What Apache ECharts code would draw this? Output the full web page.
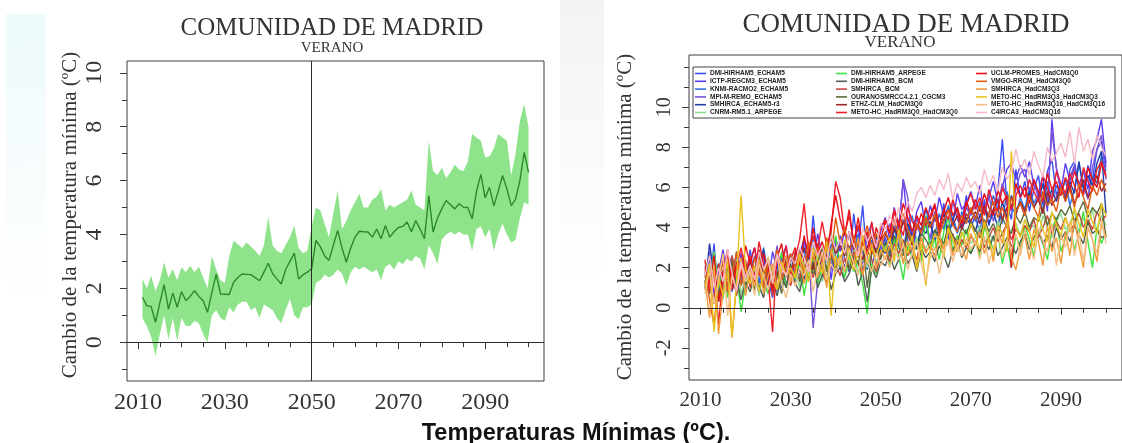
<!DOCTYPE html>
<html>
<head>
<meta charset="utf-8">
<script src="https://cdn.jsdelivr.net/npm/echarts@6/dist/echarts.min.js"></script>
<style>
  html, body { margin: 0; padding: 0; background: #ffffff; }
  #wrap { position: relative; width: 1122px; height: 443px; }
  #summary { position: absolute; left: 0; top: 0; width: 1122px; height: 443px; }
  #runs { position: absolute; left: 560px; top: 0; width: 562px; height: 443px; filter: blur(0.55px); }
</style>
</head>
<body>
<div id="wrap">
  <div id="summary"></div>
  <div id="runs"></div>
</div>
<script>
// ---- time axis -------------------------------------------------------------
const firstYear = 2011;
const lastYear = 2100;
const years = [];
for (let y = firstYear; y <= lastYear; y++) years.push(y);

const yearLabels = [2010, 2030, 2050, 2070, 2090];
const yearTicks = [2010, 2015, 2020, 2025, 2030, 2035, 2040, 2045, 2050, 2055,
                   2060, 2065, 2070, 2075, 2080, 2085, 2090, 2095, 2100];
const leftYLabels = [0, 2, 4, 6, 8, 10];
const leftYMinor = [-1, 1, 3, 5, 7, 9];
const rightYLabels = [-2, 0, 2, 4, 6, 8, 10];
const rightYMinor = [-3, -1, 1, 3, 5, 7, 9, 11, 12];

// ---- ensemble mean and spread (left panel), 2011-2100 ----------------------
const meanTn = [
  1.67, 1.36, 1.33, 0.74, 1.45, 2.14, 1.23, 1.83, 1.30, 1.88,
  1.55, 1.70, 1.91, 1.70, 1.54, 1.11, 1.85, 2.53, 1.79, 1.78,
  1.77, 2.22, 2.40, 2.53, 2.52, 2.51, 2.40, 2.28, 2.60, 2.93,
  2.55, 2.35, 2.16, 2.70, 3.00, 3.31, 2.35, 2.50, 2.60, 2.73,
  3.78, 3.55, 3.20, 3.04, 3.60, 4.15, 3.50, 2.97, 3.50, 3.90,
  4.12, 4.10, 4.09, 3.90, 4.20, 3.84, 4.33, 3.90, 4.10, 4.26,
  4.30, 4.46, 4.10, 4.52, 4.20, 3.84, 5.44, 4.09, 4.60, 4.95,
  5.26, 5.10, 4.95, 5.14, 5.01, 5.00, 4.58, 5.60, 6.23, 5.36,
  5.75, 5.06, 5.60, 6.19, 5.70, 5.07, 5.30, 6.00, 7.05, 6.30
];
const upperTn = [
  2.35, 2.00, 2.47, 1.90, 2.30, 2.96, 2.40, 2.72, 2.30, 2.78,
  2.60, 2.84, 2.60, 2.80, 2.40, 2.00, 3.20, 2.70, 2.30, 2.20,
  3.20, 3.77, 3.64, 3.50, 3.70, 3.55, 3.40, 3.20, 3.60, 4.65,
  3.60, 3.40, 3.30, 3.60, 3.90, 4.32, 3.50, 3.30, 3.40, 4.30,
  5.00, 4.90, 4.40, 3.90, 4.80, 5.63, 4.20, 4.50, 4.90, 5.20,
  5.50, 5.00, 5.00, 5.30, 5.40, 5.69, 4.90, 5.10, 5.00, 5.10,
  5.20, 5.30, 5.63, 5.10, 5.00, 4.90, 7.48, 6.36, 6.20, 6.48,
  6.10, 6.30, 6.60, 6.40, 6.36, 6.70, 7.73, 7.60, 7.48, 6.86,
  6.90, 7.20, 7.73, 7.60, 7.48, 6.20, 7.00, 8.20, 8.84, 7.97
];
const lowerTn = [
  0.90, 0.60, 0.20, -0.50, 0.30, 1.00, 0.10, 0.90, 0.05, 0.90,
  0.60, 0.60, 0.80, 0.70, 0.30, 0.00, 1.00, 1.20, 0.90, 0.80,
  1.30, 1.10, 1.40, 1.50, 1.50, 1.20, 1.30, 0.90, 1.40, 1.30,
  1.20, 0.90, 0.70, 1.20, 1.60, 1.00, 0.85, 1.30, 1.30, 1.40,
  2.20, 2.30, 2.50, 2.40, 2.50, 2.70, 2.54, 2.10, 2.60, 2.80,
  2.70, 2.80, 2.70, 2.60, 2.70, 2.30, 2.80, 2.90, 2.70, 3.00,
  2.90, 3.10, 3.00, 3.20, 3.10, 2.70, 3.60, 3.30, 2.90, 3.80,
  4.00, 4.10, 4.00, 4.10, 4.00, 4.00, 3.40, 4.20, 4.30, 3.90,
  4.20, 3.40, 4.00, 4.40, 4.00, 3.70, 3.80, 4.60, 5.20, 5.10
];

// ---- individual regional model runs (right panel), 2011-2100 ---------------
const modelNames = [
  'DMI-HIRHAM5_ECHAM5', 'ICTP-REGCM3_ECHAM5', 'KNMI-RACMO2_ECHAM5',
  'MPI-M-REMO_ECHAM5', 'SMHIRCA_ECHAM5-r3', 'CNRM-RM5.1_ARPEGE',
  'DMI-HIRHAM5_ARPEGE', 'DMI-HIRHAM5_BCM', 'SMHIRCA_BCM',
  'OURANOSMRCC4.2.1_CGCM3', 'ETHZ-CLM_HadCM3Q0', 'METO-HC_HadRM3Q0_HadCM3Q0',
  'UCLM-PROMES_HadCM3Q0', 'VMGO-RRCM_HadCM3Q0', 'SMHIRCA_HadCM3Q3',
  'METO-HC_HadRM3Q3_HadCM3Q3', 'METO-HC_HadRM3Q16_HadCM3Q16', 'C4IRCA3_HadCM3Q16'
];
const modelColors = [
  '#3a4df5', '#5b3cf0', '#2f6fe0', '#7a52d8', '#1f3fa8', '#8fdc8f',
  '#3ee23e', '#4f5f4f', '#c8463c', '#5a6b3a', '#a0222a', '#f0202a',
  '#e8101a', '#e05a10', '#f39a3a', '#e8c21a', '#f5bf85', '#f7b9c6'
];

const runHirhamEcham = [
  1.8, 0.9, 3.2, 0.4, 1.5, 2.1, 0.8, 1.9, 2.4, 1.2,
  2.9, 1.6, 0.7, 2.2, 1.4, 0.5, 1.8, 2.6, 1.1, 2.0,
  1.3, 2.7, 3.4, 1.9, 4.6, 2.2, 1.5, 3.1, 2.5, 1.7,
  3.6, 2.4, 1.8, 4.7, 2.9, 5.1, 2.2, 1.9, 3.2, 2.6,
  3.5, 2.8, 4.2, 3.0, 4.6, 3.3, 2.7, 4.1, 3.6, 4.4,
  3.2, 4.8, 3.9, 5.2, 3.4, 4.5, 3.8, 4.2, 5.6, 4.0,
  4.6, 3.7, 5.4, 4.1, 4.9, 5.8, 8.4, 5.2, 4.4, 6.9,
  5.5, 6.3, 4.8, 5.9, 6.6, 5.1, 6.8, 7.4, 5.6, 6.2,
  5.3, 6.9, 7.3, 6.0, 5.8, 7.1, 6.4, 7.9, 8.3, 7.0
];
const runRegcmEcham = [
  1.2, 2.5, 0.6, 1.8, 2.9, 1.4, 2.0, 0.9, 2.7, 1.5,
  2.3, 3.0, 1.7, 2.6, 1.2, 2.8, 1.9, 2.4, 3.1, 1.6,
  2.5, 1.8, 3.3, 2.9, 2.1, 3.7, 2.6, 3.0, 1.4, 3.4,
  2.8, 3.9, 2.5, 3.3, 4.0, 2.7, 3.6, 4.2, 2.9, 3.8,
  4.5, 3.4, 5.0, 3.9, 6.4, 4.1, 3.6, 4.8, 5.3, 4.0,
  5.1, 4.3, 5.5, 4.6, 5.0, 4.2, 5.7, 4.9, 5.2, 5.8,
  5.0, 6.1, 4.7, 5.5, 6.3, 5.2, 6.0, 6.9, 7.2, 6.4,
  7.1, 6.5, 7.3, 6.1, 5.7, 6.6, 4.8, 9.4, 6.9, 5.8,
  7.2, 6.3, 7.0, 6.1, 6.8, 5.9, 7.8, 8.4, 9.4, 7.2
];
const runRacmoEcham = [
  2.1, 1.3, 2.6, 0.8, 1.7, 2.4, 1.1, 2.8, 1.5, 0.9,
  1.9, 2.5, 1.2, 3.0, 1.6, 2.1, 0.8, 2.3, 1.8, 2.7,
  1.5, 2.2, 2.9, 1.8, 3.5, 1.2, 2.4, 2.0, 3.2, 2.6,
  1.9, 3.3, 2.5, 2.8, 3.7, 1.8, 2.6, 3.4, 2.2, 3.1,
  2.7, 3.6, 3.1, 4.4, 2.9, 3.8, 4.6, 3.2, 3.9, 4.9,
  4.1, 3.6, 4.7, 3.9, 5.1, 4.4, 3.7, 4.8, 4.2, 5.0,
  4.3, 5.3, 4.0, 4.7, 5.6, 4.9, 4.2, 5.8, 5.1, 4.6,
  5.5, 4.9, 6.0, 5.2, 5.7, 4.8, 6.3, 5.4, 6.1, 5.6,
  6.4, 5.1, 5.9, 7.2, 6.0, 5.5, 6.6, 6.2, 7.6, 6.8
];
const runRemoEcham = [
  1.5, 2.8, 1.0, 1.9, 0.6, 2.3, 1.7, 2.5, 1.3, 2.0,
  1.4, 2.6, 1.9, 1.0, 2.4, 1.7, 3.1, 1.5, 2.2, 1.3,
  2.4, 1.6, 2.0, 2.8, -1.0, 1.3, 2.6, 2.3, 1.9, 3.3,
  2.1, 2.9, 3.8, 2.4, 3.0, 2.2, 3.5, 2.7, 3.3, 2.9,
  3.6, 4.2, 3.1, 3.8, 6.4, 5.5, 3.2, 4.5, 3.7, 4.1,
  3.5, 4.6, 4.0, 4.9, 3.8, 5.3, 4.4, 4.0, 5.0, 4.6,
  5.2, 4.5, 4.9, 5.7, 4.3, 5.1, 6.2, 5.5, 4.8, 5.9,
  6.7, 6.9, 5.8, 6.4, 5.4, 6.1, 5.3, 8.8, 7.0, 6.0,
  5.6, 6.5, 7.1, 5.9, 6.3, 5.4, 7.0, 7.9, 8.6, 6.4
];
const runRcaEcham = [
  1.0, 3.2, 1.6, 2.2, 0.9, 1.8, 2.6, 1.2, 2.1, 1.7,
  2.5, 1.4, 2.0, 2.9, 1.1, 1.9, 2.3, 1.0, 2.6, 1.8,
  2.2, 2.9, 1.4, 2.5, 2.0, 3.0, 1.7, 2.7, 2.2, 1.8,
  2.6, 2.0, 3.1, 2.3, 3.4, 2.8, 1.9, 3.0, 3.6, 2.5,
  3.2, 2.6, 3.9, 3.4, 2.8, 4.2, 3.5, 3.0, 4.0, 3.7,
  4.3, 3.3, 4.0, 4.7, 3.6, 4.4, 5.0, 3.9, 4.5, 4.1,
  3.8, 4.6, 5.0, 4.2, 4.8, 4.0, 5.3, 4.5, 5.6, 4.9,
  5.2, 4.6, 5.8, 5.0, 5.5, 6.2, 5.1, 5.9, 5.3, 6.0,
  5.4, 6.3, 5.7, 7.3, 5.9, 6.6, 6.1, 7.2, 7.8, 4.7
];
const runCnrmArpege = [
  1.6, 0.8, 2.2, 1.3, 0.4, 1.9, 1.1, 2.4, 0.7, 1.5,
  1.2, 2.0, 0.6, 1.7, 2.3, 0.9, 1.6, 1.1, 2.1, 1.4,
  1.9, 1.0, 2.5, 1.5, 1.8, 2.7, 1.3, 2.0, 3.8, 1.9,
  2.4, 1.6, 2.1, 2.9, 1.7, 2.5, 2.0, 3.0, 2.3, 2.7,
  3.1, 2.4, 2.9, 3.6, 2.2, 3.3, 2.8, 3.5, 2.6, 3.0,
  3.4, 2.9, 3.7, 3.1, 4.0, 3.3, 2.8, 3.6, 3.9, 3.2,
  3.5, 4.1, 3.0, 3.8, 3.3, 4.3, 3.6, 2.9, 3.9, 4.2,
  3.6, 4.4, 3.9, 4.1, 3.4, 4.6, 4.0, 3.5, 4.3, 4.7,
  3.9, 4.2, 4.8, 3.7, 4.5, 4.0, 4.9, 3.8, 4.6, 4.1
];
const runHirhamArpege = [
  2.3, 1.4, 2.8, 1.0, 1.9, 0.5, 2.4, 1.7, -0.2, 1.2,
  1.8, 0.9, 2.5, 1.3, 0.7, 2.1, 1.5, 2.8, 1.0, 1.9,
  1.4, 2.3, 0.6, 1.9, 2.5, 1.2, 2.0, 1.6, 2.6, 3.6,
  2.0, 1.5, 2.7, 1.8, 2.3, 1.2, -0.3, 2.2, 1.7, 2.8,
  3.0, 2.1, 3.5, 2.6, 1.4, 3.1, 2.5, 3.3, 2.3, 4.6,
  2.9, 3.4, 2.4, 3.8, 4.5, 2.8, 3.6, 3.1, 3.9, 2.7,
  3.3, 2.6, 4.0, 3.5, 2.9, 3.7, 2.2, 3.2, 2.0, 3.6,
  3.0, 4.1, 3.4, 2.6, 3.8, 3.2, 2.4, 3.9, 4.5, 2.8,
  3.5, 4.2, 2.9, 3.7, 4.8, 3.3, 2.0, 4.0, 3.2, 3.8
];
const runHirhamBcm = [
  1.4, 0.7, 1.9, 0.3, 1.2, 2.0, 0.9, 1.5, 0.4, 1.3,
  0.8, 1.7, 1.1, 0.5, 1.9, 1.3, 0.6, 1.6, 1.0, 2.2,
  1.2, 0.8, 1.8, 1.4, 2.3, 1.0, 1.6, 2.1, 0.9, 1.7,
  2.0, 1.3, 1.7, 2.4, 1.1, 1.8, 0.3, 2.0, 1.5, 2.3,
  2.1, 2.7, 1.9, 2.4, 3.0, 2.2, 2.6, 1.8, 2.9, 2.5,
  2.8, 2.3, 3.1, 2.6, 2.0, 2.9, 3.3, 2.5, 3.0, 2.7,
  3.2, 2.8, 3.4, 2.9, 3.6, 2.6, 3.0, 3.5, 3.1, 2.7,
  3.3, 3.7, 2.9, 3.5, 3.9, 3.2, 3.6, 3.0, 4.0, 3.4,
  3.8, 3.3, 4.1, 3.6, 3.2, 4.3, 3.7, 3.9, 3.5, 3.6
];
const runRcaBcm = [
  1.9, 1.1, 0.5, 2.2, 1.4, 0.8, 2.6, 1.3, 1.8, 2.4,
  1.0, 1.6, 2.7, 1.2, 2.0, 0.6, 1.5, 2.3, 1.7, 1.1,
  2.0, 1.4, 2.6, 2.1, 1.5, 2.4, 1.8, 1.2, 2.7, 2.2,
  1.6, 2.5, 1.9, 2.8, 2.2, 1.7, 2.9, 2.4, 1.8, 2.6,
  2.9, 2.3, 3.2, 2.7, 3.4, 2.6, 3.0, 2.4, 3.5, 2.8,
  3.1, 2.6, 3.5, 2.9, 3.3, 3.7, 2.8, 3.4, 3.0, 3.6,
  3.2, 3.8, 3.0, 3.5, 4.0, 3.3, 3.7, 4.2, 3.4, 3.9,
  3.6, 4.1, 3.8, 4.4, 3.5, 4.0, 4.6, 3.7, 4.3, 3.9,
  4.5, 3.8, 4.2, 4.7, 4.0, 4.4, 3.9, 4.8, 4.3, 4.6
];
const runMrccCgcm = [
  1.2, 2.0, 1.5, 0.6, 1.8, 1.1, 2.3, 0.8, 1.6, 2.1,
  1.4, 0.9, 2.0, 1.6, 2.5, 1.1, 1.8, 0.7, 2.2, 1.5,
  2.6, 1.3, 1.9, 2.4, 1.7, 2.2, 3.0, 1.8, 2.5, 2.0,
  2.3, 3.1, 1.9, 2.6, 2.2, 3.3, 1.0, 2.7, 3.0, 2.4,
  3.3, 2.8, 3.6, 3.0, 2.6, 3.8, 3.2, 2.9, 3.7, 3.4,
  3.0, 3.9, 3.5, 3.2, 4.1, 3.6, 3.3, 4.0, 3.7, 4.3,
  3.9, 3.5, 4.4, 3.8, 4.2, 3.6, 4.5, 4.0, 3.7, 4.6,
  4.2, 4.8, 4.0, 4.5, 4.3, 5.0, 4.1, 4.7, 4.4, 4.9,
  4.6, 5.1, 4.3, 4.8, 5.3, 4.5, 5.0, 4.7, 5.2, 3.5
];
const runClmHad = [
  0.9, 1.7, 0.2, 1.4, 2.5, 1.0, 1.8, 0.6, 2.2, 1.5,
  2.4, 1.2, 2.9, 1.7, 2.1, 1.0, 2.6, 1.9, 2.3, 1.4,
  2.8, 2.2, 3.0, 2.4, 1.9, 3.2, 2.5, 2.9, 3.5, 2.7,
  3.1, 2.6, 3.8, 2.9, 3.3, 2.4, 3.0, 3.6, 2.7, 3.4,
  3.7, 3.2, 4.0, 3.5, 4.3, 3.6, 3.1, 4.2, 3.8, 4.5,
  4.0, 4.6, 3.7, 4.4, 4.9, 4.1, 4.6, 3.9, 4.7, 4.3,
  4.8, 4.2, 5.1, 4.5, 4.9, 5.4, 4.4, 5.0, 2.0, 4.7,
  5.3, 4.8, 5.6, 5.0, 5.4, 4.7, 5.8, 5.1, 5.5, 6.0,
  5.4, 6.1, 5.2, 5.7, 6.4, 5.5, 5.9, 6.6, 5.8, 6.2
];
const runHadRM3Q0 = [
  2.4, 0.8, 1.9, -0.8, 1.6, 2.7, 1.3, 2.0, 3.0, 1.7,
  2.6, 1.5, 3.3, 2.2, 1.4, -1.2, 2.8, 2.0, 3.1, 1.6,
  2.5, 3.4, 5.2, 2.8, 3.6, 2.9, 4.3, 3.1, 3.8, 6.3,
  5.5, 3.7, 4.6, 3.2, 4.1, 3.5, 2.6, 4.3, 3.0, 4.0,
  4.4, 3.8, 4.9, 4.2, 3.6, 5.0, 4.3, 3.9, 4.7, 4.1,
  4.6, 5.2, 4.0, 4.9, 4.4, 5.4, 4.7, 4.2, 5.1, 5.7,
  4.9, 5.5, 4.6, 5.9, 5.2, 4.8, 6.0, 5.4, 2.1, 5.6,
  6.1, 5.5, 6.4, 5.8, 5.3, 6.6, 6.0, 5.4, 6.8, 6.2,
  5.7, 6.7, 6.1, 5.5, 7.0, 6.3, 5.8, 6.9, 7.3, 6.5
];
const runPromesHad = [
  2.0, 1.2, 2.6, 0.3, 1.8, 2.9, 0.9, 2.3, 1.5, 3.1,
  2.2, 3.0, 1.6, 2.7, 1.9, 0.8, 2.5, 3.2, 1.7, 2.4,
  3.0, 2.1, 3.6, 2.5, 4.0, 2.7, 3.3, 2.4, 4.2, 5.6,
  4.4, 3.6, 4.9, 3.2, 4.5, 3.0, 3.8, 2.7, 4.0, 3.4,
  4.3, 3.7, 4.8, 4.0, 5.2, 4.5, 3.8, 4.6, 4.1, 5.0,
  4.4, 5.1, 3.9, 4.8, 5.5, 4.6, 5.0, 4.2, 5.3, 4.7,
  5.4, 4.8, 5.7, 5.0, 4.6, 5.9, 5.2, 5.6, 4.9, 6.2,
  5.5, 6.0, 5.2, 6.4, 5.8, 5.3, 6.7, 5.9, 6.3, 5.6,
  6.5, 5.9, 6.8, 6.2, 5.6, 7.0, 6.4, 6.0, 7.2, 6.6
];
const runRrcmHad = [
  1.7, 0.4, -0.9, 1.5, 2.2, 0.9, 1.6, 2.8, 1.1, 2.0,
  1.3, 2.5, 1.8, 1.0, 2.3, 1.6, 2.9, 1.4, 2.1, 2.7,
  2.0, 2.8, 1.7, 3.3, 2.4, 3.0, 2.2, 3.5, 2.6, 4.5,
  3.2, 4.0, 2.8, 3.6, 2.5, 3.3, 4.1, 2.9, 3.7, 3.1,
  3.8, 3.3, 4.4, 3.6, 4.7, 3.9, 3.4, 4.2, 3.7, 4.5,
  4.0, 4.7, 3.6, 4.3, 4.9, 4.1, 3.8, 4.6, 4.2, 5.0,
  4.4, 5.1, 4.0, 4.7, 5.3, 4.5, 5.0, 4.3, 5.5, 4.8,
  5.2, 4.6, 5.6, 5.0, 4.5, 5.8, 5.1, 5.4, 4.8, 6.0,
  5.3, 5.9, 5.0, 6.2, 5.5, 4.9, 6.1, 5.6, 6.4, 5.8
];
const runRcaHadQ3 = [
  1.3, -0.5, 2.1, -1.3, 0.8, 1.7, -1.5, 1.2, 2.5, 0.6,
  1.9, 1.1, 2.4, 0.7, 1.6, 2.2, 0.9, 1.8, 2.6, 1.3,
  1.7, 2.5, 1.2, 2.0, 2.8, 1.5, 2.3, 1.0, 2.9, 2.1,
  2.6, 1.8, 3.0, 2.2, 3.5, 1.6, 2.7, 3.2, 2.0, 2.9,
  2.4, 3.1, 2.6, 3.7, 2.2, 3.3, 2.9, 2.1, 3.5, 2.7,
  3.2, 2.5, 3.6, 2.9, 3.9, 2.6, 3.4, 3.0, 2.4, 3.7,
  3.1, 3.8, 2.7, 3.5, 2.3, 3.9, 3.2, 4.3, 2.5, 1.9,
  3.0, 3.6, 2.4, 3.9, 3.3, 2.1, 4.1, 2.8, 3.5, 2.2,
  3.8, 2.6, 4.4, 3.1, 2.0, 4.0, 3.4, 2.3, 4.2, 3.5
];
const runHadRM3Q3 = [
  1.0, 2.2, -1.2, 1.5, 0.6, 2.4, -1.4, 1.3, 5.6, 1.9,
  1.2, 2.1, 0.8, 1.7, 2.5, 1.4, 0.9, 2.3, 1.6, 2.0,
  1.5, 2.7, 2.0, 1.3, 3.0, 2.4, 1.7, 3.3, -0.4, 2.6,
  2.1, 3.4, 2.5, 1.9, 2.8, 3.6, 2.2, 3.0, 2.6, 3.3,
  2.8, 3.5, 2.3, 3.9, 3.1, 2.7, 3.6, 1.9, 3.2, 1.1,
  2.9, 3.7, 3.3, 2.5, 4.0, 3.4, 2.8, 3.8, 3.1, 4.2,
  3.6, 2.9, 4.3, 3.3, 2.6, 4.1, 3.7, 2.8, 7.8, 4.0,
  3.5, 4.4, 3.8, 3.0, 4.6, 3.9, 3.3, 4.8, 4.1, 3.6,
  4.5, 3.8, 5.0, 4.2, 3.5, 4.9, 4.3, 3.7, 5.2, 4.6
];
const runHadRM3Q16 = [
  0.7, 1.9, 0.2, 1.4, 2.7, -0.4, 1.6, 0.9, 2.1, 1.3,
  1.8, 0.6, 2.2, 1.5, 0.9, 1.9, 2.6, 1.2, 0.5, 1.7,
  1.1, 2.0, 1.6, 2.4, 0.8, 1.9, 2.8, 1.4, 2.2, 1.7,
  2.5, 1.9, 2.9, 2.2, 1.6, 3.1, 2.4, 1.8, 2.7, 2.1,
  2.6, 2.0, 2.9, 2.4, 3.2, 1.9, 2.7, 3.3, 2.2, 1.3,
  2.5, 3.0, 1.7, 2.8, 3.4, 2.3, 3.1, 2.6, 3.5, 2.9,
  3.3, 2.4, 3.6, 2.2, 3.0, 3.8, 2.5, 3.4, 2.9, 3.7,
  2.6, 3.9, 3.1, 2.4, 4.0, 3.3, 2.8, 4.2, 2.1, 3.6,
  3.0, 4.3, 2.6, 3.8, 2.3, 4.1, 3.4, 2.7, 4.4, 3.2
];
const runRca3HadQ16 = [
  1.6, 2.6, 1.0, 2.0, 1.3, 2.9, 1.7, 0.8, 2.3, 1.5,
  2.1, 1.4, 2.8, 1.9, 2.4, 1.2, 2.7, 2.0, 1.6, 2.5,
  2.2, 3.0, 2.5, 1.8, 3.3, 2.6, 3.1, 2.3, 3.6, 2.9,
  3.4, 2.7, 3.8, 3.1, 2.6, 4.0, 3.3, 3.7, 3.0, 4.2,
  3.9, 4.6, 4.1, 5.0, 4.4, 5.3, 4.8, 5.7, 6.0, 5.5,
  6.1, 5.6, 6.4, 5.9, 6.7, 5.4, 6.2, 5.8, 6.5, 6.0,
  6.3, 5.7, 6.9, 6.1, 6.6, 5.8, 7.0, 6.4, 6.8, 7.9,
  6.9, 7.4, 6.6, 7.8, 7.1, 6.5, 8.0, 7.3, 7.7, 8.2,
  7.5, 8.8, 7.2, 9.0, 7.8, 8.4, 7.4, 8.6, 8.0, 7.6
];

const modelRuns = [
  runHirhamEcham, runRegcmEcham, runRacmoEcham, runRemoEcham, runRcaEcham, runCnrmArpege,
  runHirhamArpege, runHirhamBcm, runRcaBcm, runMrccCgcm, runClmHad, runHadRM3Q0,
  runPromesHad, runRrcmHad, runRcaHadQ3, runHadRM3Q3, runHadRM3Q16, runRca3HadQ16
];

// ---- styling ----------------------------------------------------------------
const SERIF = '"Liberation Serif", "DejaVu Serif", serif';
const SANS = '"Liberation Sans", Arial, sans-serif';
const INK = '#333333';
const AXIS = '#3a3a3a';
const BAND = '#8fe48b';
const MEAN = '#2a8a2a';

// plot limits of both panels
const X_MIN = 2007.44, X_MAX = 2103.56;
const LEFT_Y = [-1.44, 10.44];
const RIGHT_Y = [-3.6, 12.6];

function pairs(values) {
  return years.map((y, i) => [y, values[i]]);
}

function xAxesFor(fontSize, margin) {
  return [
    {
      type: 'value', min: X_MIN, max: X_MAX, position: 'bottom',
      axisLine: { show: false }, splitLine: { show: false },
      axisTick: { show: true, length: 7, customValues: yearLabels, lineStyle: { color: AXIS } },
      axisLabel: { show: true, customValues: yearLabels, margin: margin,
        fontFamily: SERIF, fontSize: fontSize, color: INK, formatter: v => String(v) }
    },
    {
      type: 'value', min: X_MIN, max: X_MAX, position: 'bottom',
      axisLine: { show: false }, splitLine: { show: false },
      axisTick: { show: true, length: 5, customValues: yearTicks, lineStyle: { color: AXIS } },
      axisLabel: { show: false }
    }
  ];
}

function yAxesFor(range, labels, minor, fontSize, margin) {
  return [
    {
      type: 'value', min: range[0], max: range[1], position: 'left',
      axisLine: { show: false }, splitLine: { show: false },
      axisTick: { show: true, length: 7, customValues: labels, lineStyle: { color: AXIS } },
      axisLabel: { show: true, customValues: labels, rotate: 90, margin: margin,
        fontFamily: SERIF, fontSize: fontSize, color: INK, formatter: v => String(v) }
    },
    {
      type: 'value', min: range[0], max: range[1], position: 'left',
      axisLine: { show: false }, splitLine: { show: false },
      axisTick: { show: true, length: 5, customValues: minor, lineStyle: { color: AXIS } },
      axisLabel: { show: false }
    }
  ];
}

function label(text, x, y, size, opts) {
  return Object.assign({
    type: 'text', x: x, y: y, silent: true,
    style: { text: text, x: 0, y: 0, align: 'center', verticalAlign: 'middle',
      fontFamily: SERIF, fontSize: size, fill: INK }
  }, opts || {});
}

const refLine = { color: '#2b2b2b', width: 1, type: 'solid' };

// ---- left panel: ensemble spread and mean ---------------------------------
const summaryOption = {
  animation: false,
  backgroundColor: 'transparent',
  grid: { left: 127, right: 578, top: 61, bottom: 62, show: true,
    borderColor: AXIS, borderWidth: 1, backgroundColor: 'transparent' },
  xAxis: xAxesFor(24, 10),
  yAxis: yAxesFor(LEFT_Y, leftYLabels, leftYMinor, 24, 20),
  series: [
    {
      type: 'custom', name: 'spread', z: 1, silent: true,
      data: [[years[0], meanTn[0]]],
      renderItem: function (params, api) {
        const pts = [];
        for (let i = 0; i < years.length; i++) pts.push(api.coord([years[i], upperTn[i]]));
        for (let i = years.length - 1; i >= 0; i--) pts.push(api.coord([years[i], lowerTn[i]]));
        return { type: 'polygon', shape: { points: pts }, style: { fill: BAND } };
      }
    },
    {
      type: 'line', name: 'media', z: 3, silent: true,
      data: pairs(meanTn), symbol: 'none',
      lineStyle: { color: MEAN, width: 1.4 },
      markLine: { silent: true, symbol: 'none', label: { show: false }, lineStyle: refLine,
        data: [{ yAxis: 0 }, { xAxis: 2050 }] }
    }
  ],
  graphic: [
    { type: 'rect', silent: true, z: -10, shape: { x: 6, y: 14, width: 40, height: 285 },
      style: { fill: new echarts.graphic.LinearGradient(0, 0, 1, 1, [
        { offset: 0, color: 'rgba(215,243,245,0.45)' }, { offset: 0.6, color: 'rgba(225,245,247,0.25)' },
        { offset: 1, color: 'rgba(235,248,250,0)' }]) } },
    label('COMUNIDAD DE MADRID', 332, 28, 25),
    label('VERANO', 332, 48, 15),
    label('Cambio de la temperatura mínima (ºC)', 70, 215, 21, { rotation: Math.PI / 2 }),
    { type: 'text', x: 576, y: 434, silent: true,
      style: { text: 'Temperaturas Mínimas (ºC).', x: 0, y: 0, align: 'center', verticalAlign: 'middle',
        fontFamily: SANS, fontWeight: 'bold', fontSize: 23.5, fill: '#111' } }
  ]
};

// ---- right panel: one line per regional model run ------------------------
const runSeries = modelRuns.map((run, k) => ({
  type: 'line', name: modelNames[k], z: 2, silent: true,
  data: pairs(run), symbol: 'none',
  lineStyle: { color: modelColors[k], width: 1.4 },
  itemStyle: { color: modelColors[k] }
}));
runSeries.push({
  type: 'line', name: 'cero', z: 5, data: [],
  markLine: { silent: true, symbol: 'none', label: { show: false }, lineStyle: refLine,
    data: [{ yAxis: 0 }] }
});

const legendCols = [135, 276, 416];
const runsOption = {
  animation: false,
  backgroundColor: 'transparent',
  grid: { left: 129, right: -10, top: 55, bottom: 63, show: true,
    borderColor: AXIS, borderWidth: 1, backgroundColor: 'transparent' },
  xAxis: xAxesFor(21, 10),
  yAxis: yAxesFor(RIGHT_Y, rightYLabels, rightYMinor, 20, 14),
  legend: legendCols.map((x, c) => ({
    data: modelNames.slice(c * 6, c * 6 + 6),
    orient: 'vertical', left: x, top: 70, padding: 0,
    icon: 'rect', itemWidth: 11, itemHeight: 1.6, itemGap: 0.8, selectedMode: false,
    textStyle: { fontFamily: SANS, fontSize: 6.5, fontWeight: 'bold', color: '#222',
      lineHeight: 7, padding: [0, 0, 0, -1] }
  })),
  series: runSeries,
  graphic: [
    { type: 'rect', silent: true, z: -10, shape: { x: 0, y: 0, width: 44, height: 280 },
      style: { fill: new echarts.graphic.LinearGradient(0, 0, 0, 1, [
        { offset: 0, color: 'rgba(238,238,238,0.7)' }, { offset: 1, color: 'rgba(238,238,238,0)' }]) } },
    { type: 'rect', silent: true, z: 4, shape: { x: 133, y: 67, width: 422, height: 51 },
      style: { fill: 'rgba(255,255,255,0)', stroke: '#444', lineWidth: 1 } },
    label('COMUNIDAD DE MADRID', 346, 25, 27),
    label('VERANO', 340, 43, 17),
    label('Cambio de la temperatura mínima (ºC)', 65, 217, 21, { rotation: Math.PI / 2 })
  ]
};

echarts.init(document.getElementById('summary'), null, { renderer: 'canvas' }).setOption(summaryOption);
echarts.init(document.getElementById('runs'), null, { renderer: 'canvas' }).setOption(runsOption);
</script>
</body>
</html>
